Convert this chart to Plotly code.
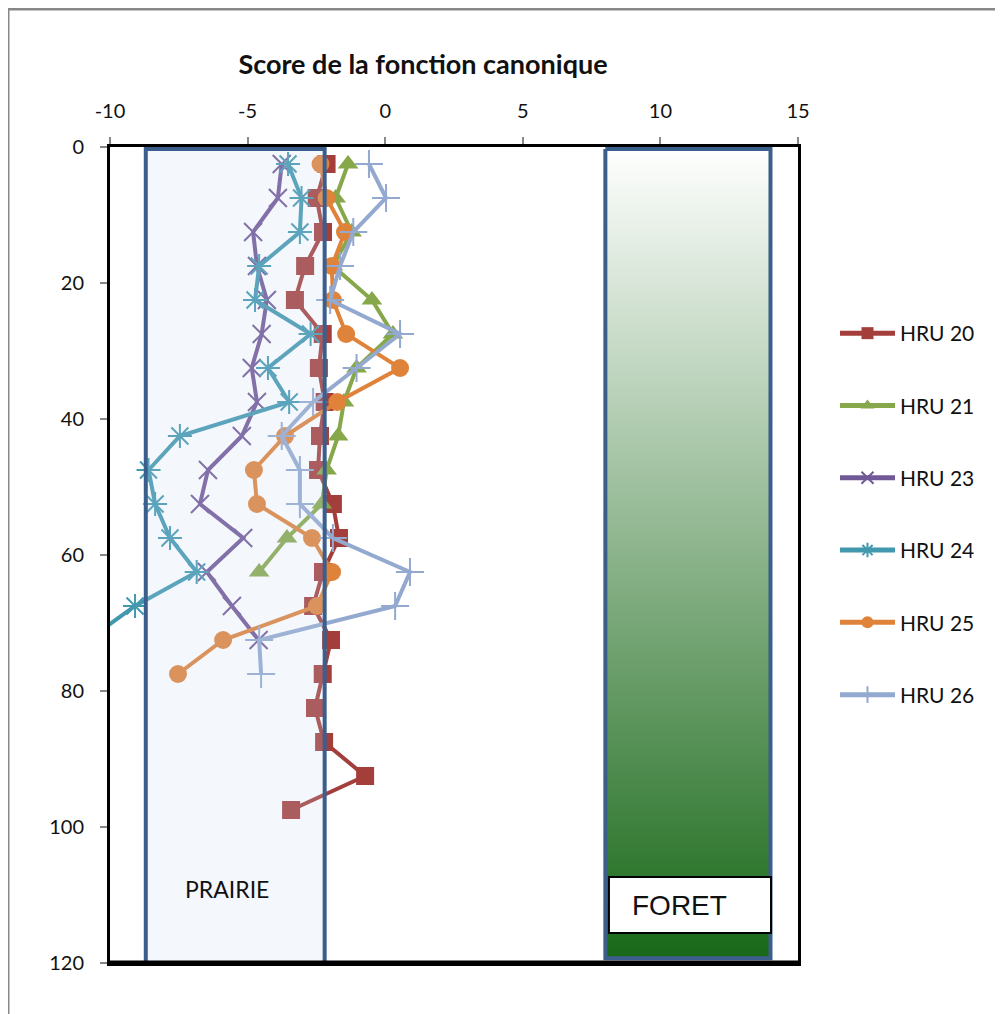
import plotly.graph_objects as go

# profondeurs (cm) et scores de la fonction canonique par HRU
depth = [2.5, 7.5, 12.5, 17.5, 22.5, 27.5, 32.5, 37.5, 42.5, 47.5,
         52.5, 57.5, 62.5, 67.5, 72.5, 77.5, 82.5, 87.5, 92.5, 97.5]

hru20 = [-2.13, -2.49, -2.26, -2.91, -3.28, -2.27, -2.41, -2.2, -2.37, -2.44,
         -1.9, -1.68, -2.26, -2.62, -1.97, -2.27, -2.55, -2.22, -0.73, -3.42]
hru21 = [-1.35, -1.8, -1.22, -1.9, -0.48, 0.28, -1.04, -1.5, -1.71, -2.13,
         -2.3, -3.57, -4.58]
hru23 = [-3.76, -3.9, -4.8, -4.66, -4.3, -4.49, -4.85, -4.66, -5.21, -6.44,
         -6.73, -5.16, -6.48, -5.57, -4.6]
hru24 = [-3.53, -3.04, -3.1, -4.58, -4.73, -2.71, -4.26, -3.49, -7.46, -8.6,
         -8.36, -7.82, -6.85, -9.09, -10.8]
hru25 = [-2.35, -2.13, -1.46, -1.94, -1.9, -1.42, 0.54, -1.74, -3.64, -4.77,
         -4.66, -2.66, -1.93, -2.48, -5.89, -7.53]
hru26 = [-0.59, 0.03, -1.16, -1.64, -2.0, 0.54, -1.04, -2.62, -3.76, -3.1,
         -3.1, -1.9, 0.9, 0.36, -4.58, -4.51]

x_ticks = [-10, -5, 0, 5, 10, 15]
x_tick_labels = ['-10', '-5', '0', '5', '10', '15']

series = [
    ('HRU 20', hru20, '#A43E3B', 'square', 18),
    ('HRU 21', hru21, '#87A84A', 'triangle-up', 18),
    ('HRU 23', hru23, '#715896', 'x-thin-open', 18),
    ('HRU 24', hru24, '#4198AF', 'asterisk-open', 20),
    ('HRU 25', hru25, '#E0833A', 'circle', 18),
    ('HRU 26', hru26, '#93A9CF', 'cross-thin-open', 20),
]

# layout in pixels (page has an 8px body margin)
OFF = 8
W, H = 1003 - OFF, 1014 - OFF
ML, MT = 110 - OFF, 147 - OFF
PW, PH = 798 - 110, 963 - 147
MR, MB = W - ML - PW, H - MT - PH

def px_x(p):
    return (p - OFF - ML) / PW

def px_y(p):
    return 1 - (p - OFF - MT) / PH

box_blue = '#3B5E8C'

fig = go.Figure()

# FORET box with vertical gradient
fig.add_trace(go.Scatter(
    x=[8, 14, 14, 8, 8], y=[0.3, 0.3, 119.3, 119.3, 0.3],
    mode='lines', fill='toself',
    fillgradient=dict(type='vertical', start=0, stop=120,
                      colorscale=[[0, '#FFFFFF'], [1, '#176717']]),
    line=dict(color=box_blue, width=4),
    showlegend=False, hoverinfo='skip'
))

for name, vals, col, sym, sz in series:
    open_sym = sym.endswith('open')
    fig.add_trace(go.Scatter(
        x=vals, y=depth[:len(vals)],
        mode='lines+markers', name=name, legendgroup=name,
        line=dict(color=col, width=4),
        marker=dict(symbol=sym, size=sz, color=col,
                    line=dict(color=col, width=2 if open_sym else 0)),
        hoverinfo='skip'
    ))

fig.update_layout(
    width=W, height=H,
    margin=dict(l=ML, r=MR, t=MT, b=MB),
    paper_bgcolor='white', plot_bgcolor='white',
    font=dict(family='Lato, Liberation Sans, sans-serif', color='#111', size=18),
    title=dict(text='<b>Score de la fonction canonique</b>',
               x=(423 - OFF) / W, xanchor='center', xref='container',
               y=1 - (65 - OFF) / H, yanchor='middle', yref='container',
               font=dict(size=27, color='#111')),
    showlegend=True,
    legend=dict(x=px_x(835), xanchor='left', y=px_y(313), yanchor='top',
                itemsizing='constant', tracegroupgap=42, itemwidth=55,
                font=dict(size=21, color='#111'),
                bgcolor='rgba(0,0,0,0)'),
    xaxis=dict(range=[-10, 15], side='top', tickmode='array',
               tickvals=x_ticks, ticktext=x_tick_labels,
               showgrid=False, zeroline=False,
               showline=True, linecolor='black', linewidth=3, mirror=True,
               ticks='outside', ticklen=7, tickcolor='#888', tickwidth=2,
               ticklabelstandoff=11, tickfont=dict(size=20)),
    yaxis=dict(range=[120, 0], tickmode='linear', tick0=0, dtick=20,
               showgrid=False, zeroline=False,
               showline=True, linecolor='black', linewidth=3, mirror=True,
               ticks='outside', ticklen=7, tickcolor='#888', tickwidth=2,
               ticklabelstandoff=12, tickfont=dict(size=20)),
)

# PRAIRIE box (semi transparent, over the curves)
fig.add_shape(type='rect', xref='x', yref='y', x0=-8.7, x1=-2.2, y0=0.3, y1=120,
              line=dict(color=box_blue, width=4),
              fillcolor='rgba(200,215,240,0.2)', layer='above')
fig.add_annotation(x=-5.75, y=109.1, xref='x', yref='y', text='PRAIRIE',
                   showarrow=False, font=dict(size=23, color='#111'))

# FORET label
fig.add_shape(type='rect', xref='x', yref='y', x0=8.13, x1=14.02, y0=107.35, y1=115.6,
              line=dict(color='black', width=2), fillcolor='white', layer='above')
fig.add_annotation(x=8.9, y=111.5, xref='x', yref='y', text='FORET', xanchor='left',
                   showarrow=False,
                   font=dict(family='Liberation Sans, Arial, sans-serif', size=28, color='#111'))

# thicker bottom border
fig.add_shape(type='line', xref='paper', yref='paper', x0=0, x1=1, y0=0, y1=0,
              line=dict(color='black', width=5), layer='above')

# outer gray frame (chart area border)
fig.add_shape(type='line', xref='paper', yref='paper',
              x0=px_x(8), x1=px_x(8), y0=px_y(9), y1=px_y(1030),
              line=dict(color='#888', width=3))
fig.add_shape(type='line', xref='paper', yref='paper',
              x0=px_x(8), x1=px_x(1020), y0=px_y(9), y1=px_y(9),
              line=dict(color='#888', width=3))

fig.write_html('out.html')
